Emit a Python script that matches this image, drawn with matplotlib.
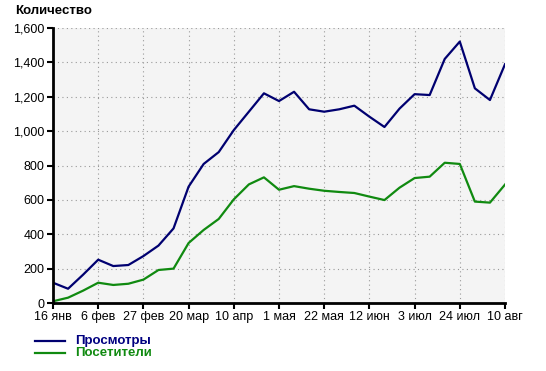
import matplotlib.pyplot as plt
import numpy as np

plt.rcParams['font.family'] = ['Liberation Sans', 'DejaVu Sans']

# недельные данные, 16 янв - 10 авг
prosmotry = [118, 83, 165, 252, 215, 221, 273, 334, 434, 677, 809, 878, 1006, 1113, 1220,
             1175, 1229, 1127, 1113, 1127, 1148, 1084, 1024, 1131, 1215, 1210, 1420, 1521,
             1249, 1181, 1389]
posetiteli = [10, 31, 72, 118, 105, 112, 136, 192, 200, 349, 425, 489, 603, 690, 731,
              659, 680, 665, 653, 646, 640, 619, 599, 671, 727, 735, 816, 809, 590, 584, 689]
tick_pos = [0, 3, 6, 9, 12, 15, 18, 21, 24, 27, 30]
tick_labels = ['16 янв', '6 фев', '27 фев', '20 мар', '10 апр', '1 мая', '22 мая',
               '12 июн', '3 июл', '24 июл', '10 авг']

x = np.arange(len(prosmotry))

fig = plt.figure(figsize=(5.46, 3.71), dpi=100)
ax = fig.add_axes([53/546, 1 - 303/371, 452/546, 275/371])
ax.set_facecolor('#f4f4f4')

ax.plot(x, prosmotry, color='#000070', lw=1.6, label='Просмотры')
ax.plot(x, posetiteli, color='#108a10', lw=1.6, label='Посетители')

ax.set_xlim(0, 30)
ax.set_ylim(0, 1600)
ax.set_yticks(range(0, 1601, 200))
ax.set_yticklabels(['{:,}'.format(v) for v in range(0, 1601, 200)])
ax.set_xticks(tick_pos)
ax.set_xticklabels(tick_labels)
ax.tick_params(labelsize=9, length=4, width=1.5, colors='black', pad=2)
ax.grid(True, linestyle=(0, (1, 3)), color='#999999', lw=0.8)

for s in ['top', 'right']:
    ax.spines[s].set_visible(False)
for s in ['left', 'bottom']:
    ax.spines[s].set_linewidth(2)

fig.text(15/546, 1 - 11/371, 'Количество', fontsize=9.5, fontweight='bold', va='center')

# легенда внизу
fig.add_artist(plt.Line2D([35/546, 65/546], [1 - 341/371] * 2, color='#000070', lw=1.6))
fig.add_artist(plt.Line2D([35/546, 65/546], [1 - 353/371] * 2, color='#108a10', lw=1.6))
fig.text(75/546, 1 - 341/371, 'Просмотры', color='#000080', fontsize=9.5, fontweight='bold', va='center')
fig.text(75/546, 1 - 353/371, 'Посетители', color='#108a10', fontsize=9.5, fontweight='bold', va='center')

fig.savefig('out.png', dpi=100)
